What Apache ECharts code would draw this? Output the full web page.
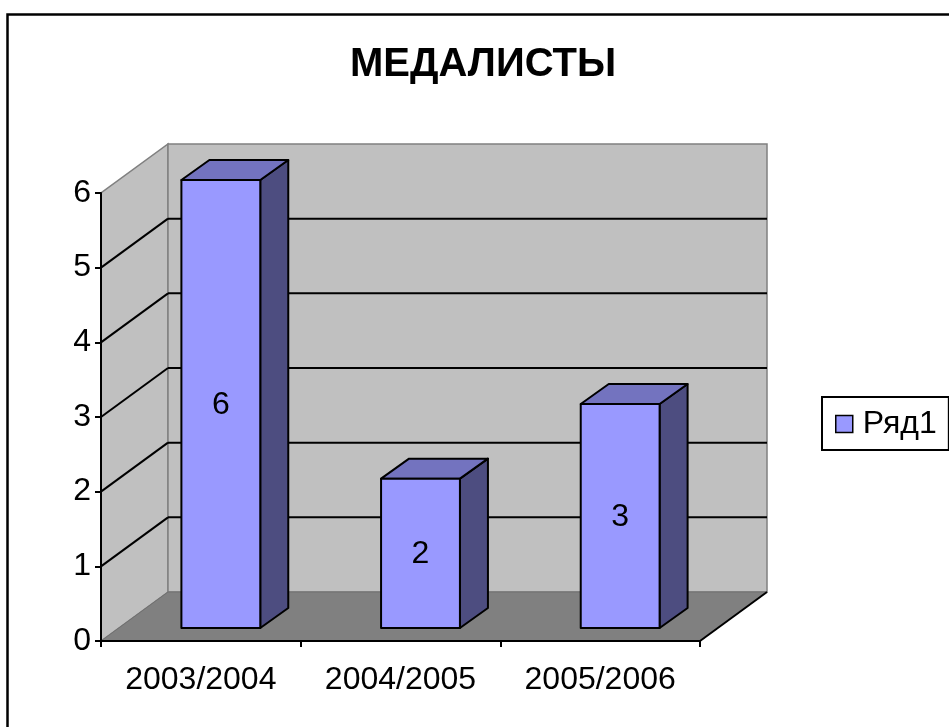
<!DOCTYPE html>
<html>
<head>
<meta charset="utf-8">
<script src="https://cdn.jsdelivr.net/npm/echarts@6/dist/echarts.min.js"></script>
<style>
  html, body { margin: 0; padding: 0; background: #fff; }
  #chart { width: 949px; height: 727px; }
</style>
</head>
<body>
<div id="chart"></div>
<script>
// ---- data ----
var chartTitle = 'МЕДАЛИСТЫ';
var seriesName = 'Ряд1';
var categories = ['2003/2004', '2004/2005', '2005/2006'];
var values = [6, 2, 3];
var yMin = 0, yMax = 6, yStep = 1;
var gridLevels = [1, 2, 3, 4, 5];

// ---- style constants ----
var FONT = '"Liberation Sans", Arial, sans-serif';
var DEPTH = [67, -49];        // wall depth offset
var BAR_SHIFT = [20, -13];    // bar front plane offset
var BAR_DEPTH = [28, -20];    // bar depth
var BAR_W = 0.395;            // fraction of band width

var chart = echarts.init(document.getElementById('chart'), null, { renderer: 'canvas' });

function renderWalls(params, api) {
  var cs = params.coordSys;
  var x0 = cs.x, x1 = cs.x + cs.width;
  var y0 = api.coord([0, yMin])[1];
  var yT = api.coord([0, yMax])[1];
  var dx = DEPTH[0], dy = DEPTH[1];
  var children = [];
  children.push({ type: 'polygon', shape: { points: [[x0, y0], [x0, yT], [x0 + dx, yT + dy], [x0 + dx, y0 + dy]] },
    style: { fill: '#c0c0c0', stroke: '#808080', lineWidth: 1.5 } });
  children.push({ type: 'polygon', shape: { points: [[x0 + dx, yT + dy], [x1 + dx, yT + dy], [x1 + dx, y0 + dy], [x0 + dx, y0 + dy]] },
    style: { fill: '#c0c0c0', stroke: '#808080', lineWidth: 1.5 } });
  children.push({ type: 'polygon', shape: { points: [[x0, y0], [x1, y0], [x1 + dx, y0 + dy], [x0 + dx, y0 + dy]] },
    style: { fill: '#808080', stroke: '#707070', lineWidth: 1 } });
  children.push({ type: 'line', shape: { x1: x1, y1: y0, x2: x1 + dx, y2: y0 + dy },
    style: { stroke: '#000', lineWidth: 2 } });
  gridLevels.forEach(function (v) {
    var y = api.coord([0, v])[1];
    children.push({ type: 'line', shape: { x1: x0, y1: y, x2: x0 + dx, y2: y + dy },
      style: { stroke: '#000', lineWidth: 2 } });
    children.push({ type: 'line', shape: { x1: x0 + dx, y1: y + dy, x2: x1 + dx, y2: y + dy },
      style: { stroke: '#000', lineWidth: 2 } });
  });
  return { type: 'group', children: children };
}

function renderBar(params, api) {
  var idx = api.value(0);
  var val = api.value(1);
  var base = api.coord([idx, yMin]);
  var top = api.coord([idx, val]);
  var band = api.size([1, 0])[0];
  var w = band * BAR_W;
  var fl = base[0] + BAR_SHIFT[0] - w / 2;
  var fr = fl + w;
  var fb = base[1] + BAR_SHIFT[1];
  var ft = top[1] + BAR_SHIFT[1];
  var dx = BAR_DEPTH[0], dy = BAR_DEPTH[1];
  var edge = { stroke: '#000', lineWidth: 2, lineJoin: 'round' };
  return {
    type: 'group',
    children: [
      { type: 'polygon', shape: { points: [[fr, ft], [fr + dx, ft + dy], [fr + dx, fb + dy], [fr, fb]] },
        style: Object.assign({ fill: '#4d4d80' }, edge) },
      { type: 'polygon', shape: { points: [[fl, ft], [fr, ft], [fr + dx, ft + dy], [fl + dx, ft + dy]] },
        style: Object.assign({ fill: '#7373bf' }, edge) },
      { type: 'rect', shape: { x: fl, y: ft, width: w, height: fb - ft },
        style: Object.assign({ fill: '#9999ff' }, edge) },
      { type: 'text', x: (fl + fr) / 2, y: (ft + fb) / 2 + 1,
        style: { text: String(val), fill: '#000', font: '32px ' + FONT, align: 'center', verticalAlign: 'middle' } }
    ]
  };
}

var option = {
  backgroundColor: '#fff',
  animation: false,
  graphic: [{
    type: 'rect', left: 5, top: 12, z: 0,
    shape: { width: 980, height: 760 },
    style: { fill: 'none', stroke: '#000', lineWidth: 2.5 }
  }],
  title: {
    text: chartTitle, left: 345, top: 40,
    textStyle: { fontFamily: FONT, fontSize: 40, fontWeight: 'bold', color: '#000' }
  },
  legend: {
    data: [seriesName], left: 822, top: 397,
    orient: 'vertical',
    backgroundColor: '#fff', borderColor: '#000', borderWidth: 2,
    padding: [11, 12, 10, 13],
    itemWidth: 17, itemHeight: 17, itemGap: 0,
    icon: 'rect',
    itemStyle: { color: '#9999ff', borderColor: '#000', borderWidth: 1.5 },
    textStyle: { fontFamily: FONT, fontSize: 32, color: '#000', padding: [0, 0, 0, 5] }
  },
  grid: { left: 101, top: 193, width: 599, height: 448, containLabel: false },
  xAxis: {
    type: 'category', data: categories, z: 5,
    axisLine: { lineStyle: { color: '#000', width: 2 } },
    axisTick: { show: true, length: 6, lineStyle: { color: '#000', width: 2 } },
    axisLabel: { fontFamily: FONT, fontSize: 32, color: '#000', margin: 23 },
    splitLine: { show: false }
  },
  yAxis: {
    type: 'value', min: yMin, max: yMax, interval: yStep, z: 5,
    axisLine: { show: true, lineStyle: { color: '#000', width: 2 } },
    axisTick: { show: true, length: 6, lineStyle: { color: '#000', width: 2 } },
    axisLabel: { fontFamily: FONT, fontSize: 32, color: '#000', margin: 10 },
    splitLine: { show: false }
  },
  series: [
    {
      type: 'custom', name: '__walls', z: 1, silent: true,
      renderItem: renderWalls, data: [[0, 0]], clip: false
    },
    {
      type: 'custom', name: seriesName, z: 6,
      itemStyle: { color: '#9999ff' },
      renderItem: renderBar, clip: false,
      encode: { x: 0, y: 1 },
      data: values.map(function (v, i) { return [i, v]; })
    }
  ]
};
chart.setOption(option);
</script>
</body>
</html>
